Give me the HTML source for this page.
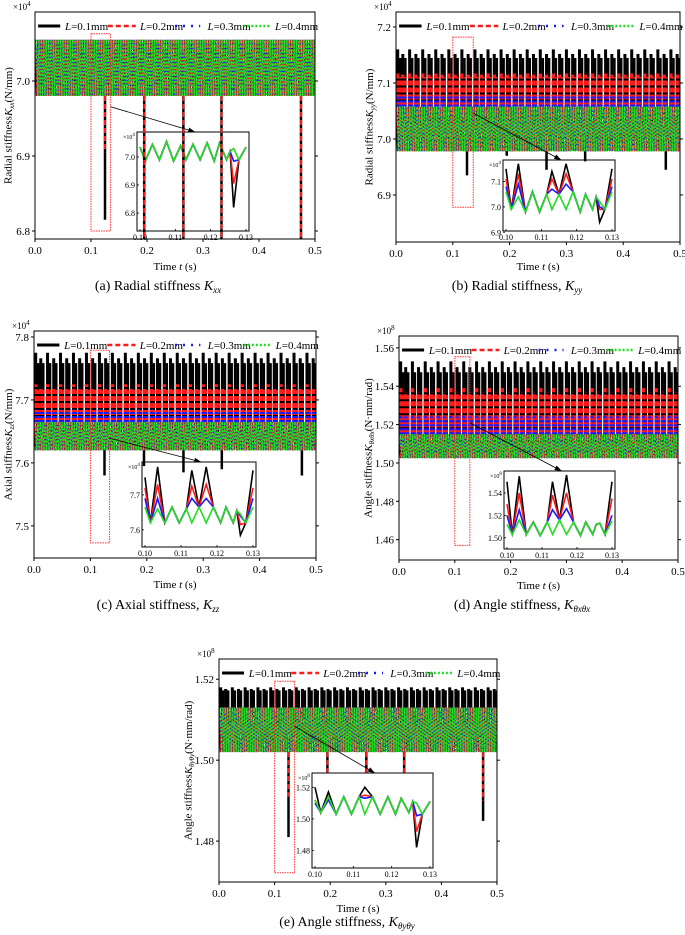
<!DOCTYPE html>
<html><head><meta charset="utf-8">
<style>
html,body{margin:0;padding:0;background:#fff;}
svg{display:block;font-family:"Liberation Serif","DejaVu Serif",serif;}
</style></head>
<body>
<svg id="fig" width="685" height="935" viewBox="0 0 685 935" xmlns="http://www.w3.org/2000/svg"></svg>
<script>
// ---------- shared data ----------
const seriesNames = ['L=0.1mm','L=0.2mm','L=0.3mm','L=0.4mm'];
const seriesColors = ['#000000','#ff1a1a','#1a1aff','#22dd22'];
const xTicks = [0.0,0.1,0.2,0.3,0.4,0.5];
const insetXTicks = [0.10,0.11,0.12,0.13];
const toothTimes = [0.003,0.012,0.024,0.035,0.047,0.058,0.070,0.081,0.093,0.104,0.116,0.127,0.139,0.150,0.162,0.173,0.185,0.196,0.208,0.219,0.231,0.242,0.254,0.265,0.277,0.288,0.300,0.311,0.323,0.334,0.346,0.357,0.369,0.380,0.392,0.403,0.415,0.426,0.438,0.449,0.461,0.472,0.484,0.495];
const dipTimes = [0.125,0.195,0.265,0.333,0.475];
const insetT = [0.100,0.1015,0.1035,0.1055,0.1075,0.1095,0.1115,0.113,0.115,0.117,0.119,0.121,0.1225,0.1245,0.1255,0.1265,0.128,0.130];

// panel a
const aBand = [6.98,7.055];
const aPeaks = [7.055,7.055,7.055,7.055];
const aDipsBlack = [6.815,6.79,6.78,6.79,6.775];
const aDipsRed = [6.905,6.79,6.785,6.79,6.78];
const aYTicks = [6.8,6.9,7.0];
const aInsetYTicks = [6.8,6.9,7.0];
const aInsetGreen = [7.035,6.985,7.045,6.99,7.055,6.985,7.04,6.99,7.045,6.99,7.05,6.985,7.05,6.99,7.02,7.03,6.99,7.035];
const aInsetSpikeIdx = [15];
const aInsetSpikeVals = [[6.82,6.905,6.985]];
const aZoomBox = [0.1,0.135,6.80,7.063];
// panel b
const bBand = [6.978,7.058];
const bPeaks = [7.16,7.12,7.08,7.058];
const bDipsBlack = [6.935,6.97,6.945,6.96,6.945];
const bDipsRed = [6.978,6.978,6.978,6.978,6.978];
const bYTicks = [6.9,7.0,7.1,7.2];
const bInsetYTicks = [6.9,7.0,7.1];
const bInsetGreen = [7.06,6.99,7.04,6.98,7.06,6.98,7.05,6.99,7.05,6.99,7.06,6.98,7.05,6.99,7.04,7.02,6.99,7.06];
const bInsetSpikeIdx = [0,2,7,9,15,17];
const bInsetSpikeVals = [[7.15,7.11,7.08],[7.17,7.13,7.09],[7.14,7.11,7.07],[7.17,7.13,7.09],[6.94,6.99,7.0],[7.15,7.11,7.08]];
const bZoomBox = [0.1,0.136,6.878,7.182];
// panel c
const cBand = [7.62,7.665];
const cPeaks = [7.775,7.725,7.685,7.665];
const cDipsBlack = [7.58,7.595,7.585,7.59,7.58];
const cDipsRed = [7.62,7.62,7.62,7.62,7.62];
const cYTicks = [7.5,7.6,7.7,7.8];
const cInsetYTicks = [7.6,7.7];
const cInsetGreen = [7.665,7.62,7.66,7.62,7.665,7.62,7.66,7.62,7.665,7.62,7.665,7.62,7.665,7.62,7.655,7.645,7.62,7.665];
const cInsetSpikeIdx = [0,2,7,9,15,17];
const cInsetSpikeVals = [[7.75,7.72,7.69],[7.78,7.73,7.69],[7.77,7.725,7.69],[7.78,7.73,7.69],[7.585,7.615,7.64],[7.77,7.72,7.69]];
const cZoomBox = [0.1,0.134,7.473,7.779];
// panel d
const dBand = [1.5025,1.515];
const dPeaks = [1.553,1.539,1.525,1.515];
const dDipsBlack = [];
const dDipsRed = [];
const dYTicks = [1.46,1.48,1.50,1.52,1.54,1.56];
const dInsetYTicks = [1.50,1.52,1.54];
const dInsetGreen = [1.512,1.503,1.516,1.503,1.514,1.502,1.514,1.503,1.516,1.503,1.514,1.502,1.514,1.503,1.512,1.513,1.503,1.515];
const dInsetSpikeIdx = [0,2,7,9,17];
const dInsetSpikeVals = [[1.55,1.53,1.52],[1.555,1.54,1.525],[1.55,1.538,1.525],[1.556,1.54,1.526],[1.55,1.535,1.52]];
const dZoomBox = [0.1,0.127,1.457,1.5554];
// panel e
const eBand = [1.502,1.513];
const ePeaks = [1.518,1.513,1.513,1.513];
const eDipsBlack = [1.481,1.497,1.497,1.497,1.485];
const eDipsRed = [1.491,1.497,1.497,1.497,1.49];
const eYTicks = [1.48,1.50,1.52];
const eInsetYTicks = [1.48,1.50,1.52];
const eInsetGreen = [1.512,1.504,1.514,1.503,1.514,1.503,1.514,1.503,1.514,1.503,1.514,1.503,1.513,1.504,1.511,1.510,1.503,1.511];
const eInsetSpikeIdx = [0,2,7,15];
const eInsetSpikeVals = [[1.52,1.512,1.51],[1.517,1.514,1.512],[1.52,1.515,1.513],[1.482,1.492,1.502]];
const eZoomBox = [0.1,0.136,1.4722,1.5195];

const NS='http://www.w3.org/2000/svg';
const svg=document.getElementById('fig');
function mk(tag,attrs,parent){const e=document.createElementNS(NS,tag);for(const k in attrs)e.setAttribute(k,attrs[k]);(parent||svg).appendChild(e);return e;}
const dashes=['none','4,2','1.5,3','2,1.5'];
const bandW=[0.8,1.1,1.1,1.6];

const panels=[
 {id:'a',L:35,R:315,T:12,B:239,y0:6.7893,y1:7.092,band:aBand,peaks:aPeaks,dB:aDipsBlack,dR:aDipsRed,yt:aYTicks,dec:1,mult:'4',
  inset:{L:137,R:249,T:132,B:231,y0:6.736,y1:7.089,yt:aInsetYTicks,g:aInsetGreen,si:aInsetSpikeIdx,sv:aInsetSpikeVals},zoom:aZoomBox,
  ylab:['Radial stiffness',' ','xx','(N/mm)'],ylx:9,cap:['(a) Radial stiffness ','xx',''],capx:158,capy:290,timey:270,teeth:false},
 {id:'b',L:396,R:680,T:12,B:242,y0:6.816,y1:7.2268,band:bBand,peaks:bPeaks,dB:bDipsBlack,dR:bDipsRed,yt:bYTicks,dec:1,mult:'4',
  inset:{L:503,R:615,T:160,B:231,y0:6.905,y1:7.185,yt:bInsetYTicks,g:bInsetGreen,si:bInsetSpikeIdx,sv:bInsetSpikeVals},zoom:bZoomBox,
  ylab:['Radial stiffness',' ','yy','(N/mm)'],ylx:370,cap:['(b) Radial stiffness, ','yy',''],capx:517,capy:290,timey:270,teeth:true},
 {id:'c',L:34,R:316,T:331,B:558,y0:7.449,y1:7.8095,band:cBand,peaks:cPeaks,dB:cDipsBlack,dR:cDipsRed,yt:cYTicks,dec:1,mult:'4',
  inset:{L:142,R:256,T:462,B:547,y0:7.551,y1:7.794,yt:cInsetYTicks,g:cInsetGreen,si:cInsetSpikeIdx,sv:cInsetSpikeVals},zoom:cZoomBox,
  ylab:['Axial stiffness',' ','zz','(N/mm)'],ylx:9,cap:['(c) Axial stiffness, ','zz',''],capx:158,capy:609,timey:588,teeth:true},
 {id:'d',L:399,R:678,T:336,B:560,y0:1.4494,y1:1.5662,band:dBand,peaks:dPeaks,dB:dDipsBlack,dR:dDipsRed,yt:dYTicks,dec:2,mult:'8',
  inset:{L:504,R:615,T:471,B:549,y0:1.490,y1:1.5596,yt:dInsetYTicks,g:dInsetGreen,si:dInsetSpikeIdx,sv:dInsetSpikeVals},zoom:dZoomBox,
  ylab:['Angle stiffness',' ','θxθx','(N·mm/rad)'],ylx:369,cap:['(d) Angle stiffness, ','θxθx',''],capx:522,capy:609,timey:589,teeth:true},
 {id:'e',L:219,R:497,T:659,B:882,y0:1.4699,y1:1.525,band:eBand,peaks:ePeaks,dB:eDipsBlack,dR:eDipsRed,yt:eYTicks,dec:2,mult:'8',
  inset:{L:312,R:433,T:773,B:868,y0:1.469,y1:1.529,yt:eInsetYTicks,g:eInsetGreen,si:eInsetSpikeIdx,sv:eInsetSpikeVals},zoom:eZoomBox,
  ylab:['Angle stiffness',' ','θyθy','(N·mm/rad)'],ylx:189,cap:['(e) Angle stiffness, ','θyθy',''],capx:347,capy:926,timey:912,teeth:true}
];

panels.forEach(p=>{
 const g=mk('g',{});
 
 
 const X=t=>p.L+(t/0.5)*(p.R-p.L);
 const Y=v=>p.B-(v-p.y0)/(p.y1-p.y0)*(p.B-p.T);
 const cid='clip'+p.id;
 const cp=mk('clipPath',{id:cid},g);mk('rect',{x:p.L,y:p.T,width:p.R-p.L,height:p.B-p.T},cp);
 const data=mk('g',{'clip-path':'url(#'+cid+')'},g);
 
 
 if(p.teeth){
  [0,1,2].forEach(s=>{
   toothTimes.forEach((t,i)=>{
    const ln=mk('line',{x1:X(t),x2:X(t),y1:Y(p.band[1]),y2:Y(p.peaks[s]-(i%2?(p.peaks[s]-p.band[1])*0.08:0)),stroke:seriesColors[s],'stroke-width':s==0?3:3.5,'stroke-dasharray':s==0?'none':(s==1?'5,2':'2,2')},data);
    
    
    const ln2=mk('line',{x1:X(t+0.0045),x2:X(t+0.0045),y1:Y(p.band[1]),y2:Y(p.peaks[s]-(p.peaks[s]-p.band[1])*0.15),stroke:seriesColors[s],'stroke-width':2.5,'stroke-dasharray':s==0?'none':(s==1?'5,2':'2,2')},data);
    
    
   });
  });
 }
 const per=0.0043;
 [0,1,2,3].forEach(s=>{
  let pts=[];const ph=s*per*0.22;
  for(let t=ph,k=0;t<=0.5+per;t+=per/2,k++){pts.push(X(t).toFixed(2)+','+Y(k%2?p.band[0]:p.band[1]).toFixed(2));}
  const pl=mk('polyline',{points:pts.join(' '),fill:'none',stroke:seriesColors[s],'stroke-width':bandW[s],'stroke-dasharray':dashes[s]},data);
  
  
 });
 const zb=mk('rect',{x:X(p.zoom[0]),y:Y(p.zoom[3]),width:X(p.zoom[1])-X(p.zoom[0]),height:Y(p.zoom[2])-Y(p.zoom[3]),fill:'none',stroke:'#ff3030','stroke-width':1,'stroke-dasharray':'1.5,1'},g);
 
 
 const I=p.inset;
 const ig=mk('g',{},g);
 
 
 mk('rect',{x:I.L,y:I.T,width:I.R-I.L,height:I.B-I.T,fill:'#fff',stroke:'none'},ig);
 const IX=t=>I.L+3+(t-0.10)/0.03*(I.R-I.L-6);
 const IY=v=>I.B-(v-I.y0)/(I.y1-I.y0)*(I.B-I.T);
 const icid='iclip'+p.id;const icp=mk('clipPath',{id:icid},ig);mk('rect',{x:I.L,y:I.T,width:I.R-I.L,height:I.B-I.T},icp);
 const idata=mk('g',{'clip-path':'url(#'+icid+')'},ig);
 [0,1,2,3].forEach(s=>{
  const vals=I.g.slice();
  if(s<3)I.si.forEach((idx,j)=>{vals[idx]=I.sv[j][s];});
  const pts=insetT.map((t,i)=>IX(t).toFixed(2)+','+IY(vals[i]).toFixed(2)).join(' ');
  const pl=mk('polyline',{points:pts,fill:'none',stroke:seriesColors[s],'stroke-width':1.6,'stroke-linejoin':'miter'},idata);
  
  
 });
 mk('rect',{x:I.L,y:I.T,width:I.R-I.L,height:I.B-I.T,fill:'none',stroke:'#000','stroke-width':1},ig);
 insetXTicks.forEach(t=>{
  mk('line',{x1:IX(t),x2:IX(t),y1:I.B,y2:I.B-2,stroke:'#000','stroke-width':0.8},ig);
  const tx=mk('text',{x:IX(t),y:I.B+9,'font-size':8,'text-anchor':'middle'},ig);tx.textContent=t.toFixed(2);
  
  
 });
 I.yt.forEach(v=>{
  mk('line',{x1:I.L,x2:I.L+2,y1:IY(v),y2:IY(v),stroke:'#000','stroke-width':0.8},ig);
  const tx=mk('text',{x:I.L-2,y:IY(v)+3,'font-size':8,'text-anchor':'end'},ig);tx.textContent=v.toFixed(p.dec==1?1:2);
  
  
 });
 const im=mk('text',{x:I.L-14,y:I.T+7,'font-size':6},ig);im.innerHTML='×10<tspan dy="-3" font-size="5">'+p.mult+'</tspan>';
 
 
 const dg=mk('g',{'clip-path':'url(#'+cid+')'},g);
 dipTimes.forEach((t,i)=>{
  if(p.dB[i]===undefined)return;
  const l1=mk('line',{x1:X(t),x2:X(t),y1:Y(p.band[0]),y2:Y(p.dB[i]),stroke:'#000','stroke-width':2.5},dg);
  
  
  const l2=mk('line',{x1:X(t),x2:X(t),y1:Y(p.band[0]),y2:Y(p.dR[i]),stroke:'#ff1a1a','stroke-width':2,'stroke-dasharray':'5,3'},dg);
  
  
 });
 const ax1=X(p.zoom[1]),ay1=Y(p.zoom[3])+(p.id=='a'?73:(p.id=='b'?76:(p.id=='c'?88:(p.id=='d'?66:45))));
 const ax2=I.L+(I.R-I.L)*0.52,ay2=I.T;
 const ar=mk('line',{x1:ax1,y1:ay1,x2:ax2,y2:ay2,stroke:'#000','stroke-width':0.8},g);
 
 
 const ang=Math.atan2(ay2-ay1,ax2-ax1);
 const hp=[[ax2,ay2],[ax2-7*Math.cos(ang)+2.5*Math.sin(ang),ay2-7*Math.sin(ang)-2.5*Math.cos(ang)],[ax2-7*Math.cos(ang)-2.5*Math.sin(ang),ay2-7*Math.sin(ang)+2.5*Math.cos(ang)]];
 const ah=mk('polygon',{points:hp.map(q=>q.join(',')).join(' '),fill:'#000'},g);
 
 
 const fr=mk('rect',{x:p.L,y:p.T,width:p.R-p.L,height:p.B-p.T,fill:'none',stroke:'#000','stroke-width':1},g);
 
 
 xTicks.forEach(t=>{
  mk('line',{x1:X(t),x2:X(t),y1:p.B,y2:p.B+3,stroke:'#000','stroke-width':1},g);
  const tx=mk('text',{x:X(t),y:p.B+15,'font-size':11,'text-anchor':'middle'},g);tx.textContent=t.toFixed(1);
  
  
 });
 p.yt.forEach(v=>{
  mk('line',{x1:p.L-3,x2:p.L,y1:Y(v),y2:Y(v),stroke:'#000','stroke-width':1},g);
  mk('line',{x1:p.R,x2:p.R+3,y1:Y(v),y2:Y(v),stroke:'#000','stroke-width':1},g);
  const tx=mk('text',{x:p.L-5,y:Y(v)+4,'font-size':11,'text-anchor':'end'},g);tx.textContent=v.toFixed(p.dec);
  
  
 });
 const mt=mk('text',{x:p.L-22,y:p.T-2,'font-size':9},g);mt.innerHTML='×10<tspan dy="-4" font-size="7">'+p.mult+'</tspan>';
 
 
 const cy=(p.T+p.B)/2;
 const yl=mk('text',{x:p.ylx,y:cy,'font-size':11,'text-anchor':'middle',transform:'rotate(-90 '+p.ylx+' '+cy+')','dominant-baseline':'middle'},g);
 yl.innerHTML=p.ylab[0]+'<tspan font-style="italic">K</tspan><tspan font-size="7" font-style="italic" dy="3">'+p.ylab[2]+'</tspan><tspan dy="-3">'+p.ylab[3]+'</tspan>';
 
 
 const xl=mk('text',{x:(p.L+p.R)/2,y:p.timey,'font-size':11,'text-anchor':'middle'},g);
 xl.innerHTML='Time <tspan font-style="italic">t</tspan> (s)';
 
 
 const cap=mk('text',{x:p.capx,y:p.capy,'font-size':14,'text-anchor':'middle'},g);
 cap.innerHTML=p.cap[0]+'<tspan font-style="italic">K</tspan><tspan font-size="9" font-style="italic" dy="3">'+p.cap[1]+'</tspan>';
 
 
 const W=p.R-p.L,ly=p.T+14;
 const lf=[[0.011,0.09,0.107],[0.26,0.36,0.375],[0.5,0.59,0.616],[0.744,0.84,0.857]];
 [0,1,2,3].forEach(s=>{
  const lg=mk('g',{},g);
  
  
  mk('line',{x1:p.L+lf[s][0]*W,x2:p.L+lf[s][1]*W,y1:ly,y2:ly,stroke:seriesColors[s],'stroke-width':s==0?3:2.5,'stroke-dasharray':s==0?'none':(s==1?'5,3':(s==2?'2,6':'2,2'))},lg);
  const tx=mk('text',{x:p.L+lf[s][2]*W,y:ly+4,'font-size':11},lg);
  tx.innerHTML='<tspan font-style="italic">L</tspan>'+seriesNames[s].slice(1);
 });
});
</script>
</body></html>
